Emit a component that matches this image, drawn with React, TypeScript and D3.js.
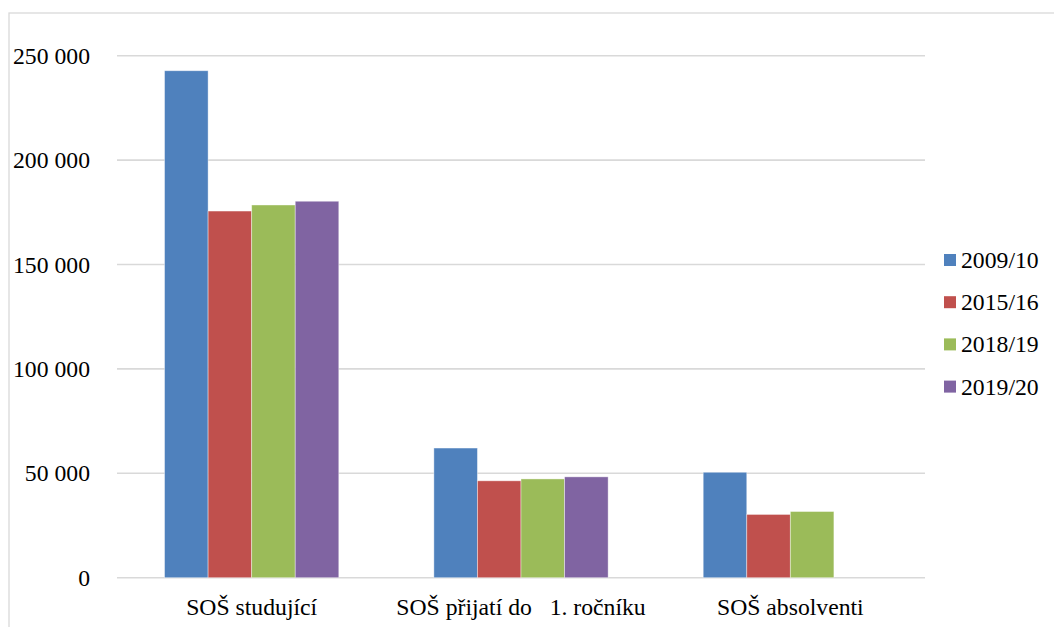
import React from "react";
import * as d3 from "d3";

const categories = ["SOŠ studující", "SOŠ přijatí do\u00A0\u00A0 1. ročníku", "SOŠ absolventi"];
const seriesNames = ["2009/10", "2015/16", "2018/19", "2019/20"];
const s2009 = [242800, 62100, 50500];
const s2015 = [175600, 46400, 30300];
const s2018 = [178500, 47300, 31700];
const s2019: (number | null)[] = [180300, 48300, null];
const colors = ["#4F81BD", "#C0504D", "#9BBB59", "#8064A2"];
const yTicks = [0, 50000, 100000, 150000, 200000, 250000];

const W = 1054;
const H = 627;
const left = 117;
const right = 925;
const top = 55.7;
const bottom = 577.7;
const FS = 23.7;

export default function App() {
  const series = [s2009, s2015, s2018, s2019];
  const x = d3.scaleBand<string>().domain(categories).range([left, right]).paddingInner(0).paddingOuter(0);
  const groupW = x.bandwidth() * 0.647;
  const x1 = d3
    .scaleBand<string>()
    .domain(seriesNames)
    .range([(x.bandwidth() - groupW) / 2, (x.bandwidth() + groupW) / 2]);
  const y = d3.scaleLinear().domain([0, 250000]).range([bottom, top]);
  const fmt = (v: number) => d3.format(",")(v).replace(/,/g, " ");

  return (
    <div style={{ fontFamily: '"Liberation Serif"' }}>
      <style>{`svg text { font-family: "Liberation Serif", "Times New Roman", serif !important; }`}</style>
      <svg width={W} height={H} style={{ position: "absolute", left: 0, top: 0 }}>
        <rect x={9} y={13} width={W + 20} height={H + 20} fill="#fff" stroke="#D9D9D9" strokeWidth={1.3} />
        {yTicks.map((t) => (
          <g key={t}>
            <line x1={left} x2={right} y1={y(t)} y2={y(t)} stroke="#D9D9D9" strokeWidth={1.6} />
            <text x={90} y={y(t) + 8} textAnchor="end" fontSize={FS}>
              {fmt(t)}
            </text>
          </g>
        ))}
        {categories.map((c, ci) => (
          <g key={c} transform={`translate(${x(c)},0)`}>
            {series.map((s, si) => {
              const v = s[ci];
              if (v == null) return null;
              return (
                <rect
                  key={si}
                  x={x1(seriesNames[si])}
                  y={y(v)}
                  width={x1.bandwidth()}
                  height={y(0) - y(v)}
                  fill={colors[si]}
                  stroke="#fff"
                  strokeOpacity={0.5}
                  strokeWidth={0.8}
                />
              );
            })}
          </g>
        ))}
        {categories.map((c) => (
          <text key={c} x={(x(c) as number) + x.bandwidth() / 2} y={615} textAnchor="middle" fontSize={FS}>
            {c}
          </text>
        ))}
        {seriesNames.map((n, i) => (
          <g key={n} transform={`translate(944,${260 + i * 42.2})`}>
            <rect x={0} y={-6} width={12} height={12} fill={colors[i]} />
            <text x={17} y={8} fontSize={FS}>
              {n}
            </text>
          </g>
        ))}
      </svg>
    </div>
  );
}
